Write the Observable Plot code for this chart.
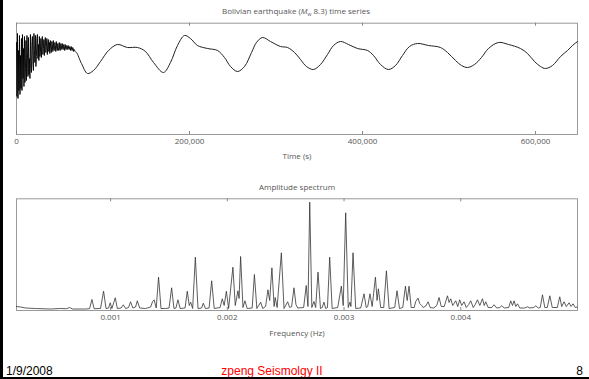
<!DOCTYPE html>
<html>
<head>
<meta charset="utf-8">
<script src="https://cdn.jsdelivr.net/npm/d3@7"></script>
<script src="https://cdn.jsdelivr.net/npm/@observablehq/plot@0.6"></script>
<style>
  html, body { margin: 0; padding: 0; background: #fff; }
  #page { position: relative; width: 589px; height: 379px; overflow: hidden; background: #fff; }
  .lbl { position: absolute; font-family: "Open Sans", sans-serif; font-size: 8px; color: #555; white-space: nowrap; transform: translate(-50%, -50%); line-height: 1; }
  .foot { position: absolute; font-family: "Liberation Sans", Arial, sans-serif; font-size: 12px; line-height: 1; white-space: nowrap; }
  #leftbar { position: absolute; left: 0; top: 0; width: 3px; height: 379px; background: #000; }
  #bottombar { position: absolute; left: 0; top: 377px; width: 589px; height: 2px; background: #000; }
  .plotbox { position: absolute; left: 0; }
</style>
</head>
<body>
<div id="page">
  <div id="leftbar"></div>
  <div class="lbl" style="left:296px; top:12px;">Bolivian earthquake (<i>M</i><sub style="font-size:5px">w</sub> 8.3) time series</div>
  <div class="plotbox" id="ts" style="top:0px;"></div>
  <div class="lbl" style="left:297px; top:156px;">Time (s)</div>
  <div class="lbl" style="left:297px; top:187px;">Amplitude spectrum</div>
  <div class="plotbox" id="sp" style="top:165px;"></div>
  <div class="lbl" style="left:297px; top:333px;">Frequency (Hz)</div>
  <div class="foot" style="left:6px; top:365px; color:#000;">1/9/2008</div>
  <div class="foot" style="left:272px; top:365px; color:#ff0000; transform:translateX(-50%);">zpeng Seismolgy II</div>
  <div class="foot" style="right:6px; top:365px; color:#000;">8</div>
  <div id="bottombar"></div>
</div>
<script>
// ---- Time series: noisy onset (time in s, amplitude in arbitrary units) ----
const noiseTime = [0,575,1150,1725,2300,2875,3450,4025,4600,5175,5750,6325,6900,7475,8050,8625,9200,9775,10350,10925,11500,12075,12650,13225,13800,14375,14950,15525,16100,16675,17250,17825,18400,18975,19550,20125,20700,21275,21850,22425,23000,23575,24150,24725,25300,25875,26450,27025,27600,28175,28750,29325,29900,30475,31050,31625,32200,32775,33350,33925,34500,35075,35650,36225,36800,37375,37950,38525,39100,39675,40250,40825,41400,41975,42550,43125,43700,44275,44850,45425,46000,46575,47150,47725,48300,48875,49450,50025,50600,51175,51750,52325,52900,53475,54050,54625,55200,55775,56350,56925,57500,58075,58650,59225,59800,60375,60950,61525,62100,62675,63250,63825,64400,64975,65550,66125,66700,67275];
const noiseAmp = [18,-36,27,-38,10,-30,25,-34,5,-28,22,-30,26,-18,12,-26,24,-22,-8,20,-20,25,8,-16,23,-14,2,-18,26,-8,-12,18,24,-4,-10,27,10,-2,25,-6,4,22,26,2,16,0,24,4,8,22,3,20,24,6,12,21,5,19,23,8,14,22,6,17,21,9,18,7,20,12,8,19,16,9,20,11,10,18,15,9,19,12,10,17,13,10,18,11,10,17,15,11,17,12,11,16,14,10,16,12,11,15,14,11,15,12,11,14,13,10,14,11,10,13,12,9,11,10];

// ---- Time series: long-period oscillation ----
const waveTime = [67850,69400,75100,82100,89000,97100,106400,116800,128300,139900,149100,158400,169900,178000,186100,194200,201100,209200,220800,232400,240400,247400,255500,263600,271700,277400,284400,293600,305200,313300,321400,328300,335200,343300,351400,359500,366500,374500,383800,394200,405800,412700,420800,430000,438100,446200,454300,463600,476300,490100,498200,507500,514400,521400,529400,537500,545600,557200,568800,582600,590700,598800,605700,611500,619600,628900,637000,642700,648500];
const waveAmp = [9,8,-3,-13,-10,-1,10,16,13,13,9,-2,-12,-2,15,25,22,15,12,10,3,-6,-11,-6,8,18,23,19,14,13,8,1,-6,-9,-4,6,15,19,16,12,10,5,-4,-9,-5,5,14,17,15,13,8,0,-5,-7,-4,3,12,18,16,12,7,-1,-6,-8,-5,4,10,15,19];
const timeTicks = [0, 200000, 400000, 600000];

// ---- Amplitude spectrum (frequency in microhertz, amplitude in arbitrary units) ----
const specFreqMicroHz = [194,229,271,357,486,571,623,649,674,786,820,840,859,914,940,961,983,997,1011,1040,1058,1090,1109,1129,1154,1171,1191,1214,1229,1249,1300,1343,1360,1373,1391,1411,1432,1471,1501,1523,1543,1560,1577,1596,1638,1657,1674,1686,1703,1726,1749,1780,1794,1812,1844,1866,1888,1938,1957,1973,1992,2011,2048,2068,2091,2101,2114,2134,2151,2170,2213,2232,2253,2286,2303,2328,2348,2363,2382,2401,2410,2427,2463,2486,2517,2534,2551,2571,2588,2603,2654,2676,2691,2706,2724,2742,2757,2777,2798,2813,2828,2843,2858,2877,2898,2946,2977,2993,3014,3036,3051,3059,3077,3100,3143,3171,3190,3203,3222,3241,3269,3283,3294,3314,3340,3363,3386,3434,3454,3475,3503,3526,3541,3557,3575,3601,3614,3634,3648,3665,3678,3700,3720,3738,3768,3794,3814,3833,3858,3886,3900,3914,3931,3957,3974,3991,4008,4028,4047,4068,4085,4107,4124,4143,4163,4186,4201,4214,4235,4266,4285,4308,4334,4351,4373,4411,4428,4443,4457,4471,4486,4505,4548,4571,4591,4625,4643,4664,4681,4700,4720,4741,4763,4784,4827,4848,4865,4885,4904,4928,4945,4962,4981,4998];
const specAmp = [4,3.5,2.5,2,1.5,2,1.8,3,1.5,1.5,1.8,11,1.8,2,19.3,2,2.5,7.7,2,12.7,2,2.5,5.7,2,3,8.7,2.5,3.5,9.7,2.5,2,3.5,9,10.7,2.5,33.3,2,2,2.5,22.7,2,2.5,10.7,2,2.5,19.3,5,8.3,2,53.3,2,2.5,7.3,2,2.5,29.7,2,3,11.7,5,19.3,2,43.3,5,19.7,12,54,3,9.7,2,2.5,36,2,8.3,2,4,20.7,10,42.7,4,13,3,57.7,2,8.7,3,4,22.7,6,2.5,3,25,4,108.3,3,9,3,38.3,2,3,8.3,2,3,53.3,2,3,24.3,5,97.7,3,8.3,4,57.7,2,2.5,16.7,3,4,16.7,4,33.3,10,21.7,3,3,39.7,2,3,19.7,2,3,24.3,10,24.3,3,3,9,12.3,7,5,3,4.5,8.7,3,2.5,5,13,4,4,14.7,8,11.7,5,9.7,4,10.7,5,8.7,3,6,9.7,3,6,10.7,5,11.7,5,8.7,3,3,5.7,2.5,3,4.7,2.5,3,9.7,5,9.7,4,6.7,2.5,2.5,3.7,2.5,3,4.7,2.5,3,15.7,3,3,14.7,3,3,13.7,4,8.7,4,7.7,4,6.7,3,3.5];
const freqTicks = [0.001, 0.002, 0.003, 0.004];

const noise = noiseTime.map((t, i) => ({t, a: noiseAmp[i]}));
const wave = waveTime.map((t, i) => ({t, a: waveAmp[i]}));
const spec = specFreqMicroHz.map((f, i) => ({f: f / 1e6, a: specAmp[i]}));

const baseStyle = {fontFamily: "'Open Sans', sans-serif", fontSize: "8px", color: "#555", background: "transparent", overflow: "visible"};

const ts = Plot.plot({
  width: 589, height: 165,
  marginLeft: 16, marginRight: 12, marginTop: 22.7, marginBottom: 31,
  style: baseStyle,
  x: {domain: [0, 648500]},
  y: {domain: [-74, 37.3], axis: null},
  marks: [
    Plot.frame({stroke: "#999", strokeWidth: 1}),
    Plot.ruleX(timeTicks, {stroke: "#888", insetBottom: 108.3}),
    Plot.ruleX(timeTicks, {stroke: "#888", insetTop: 108.3}),
    Plot.axisX(timeTicks, {anchor: "bottom", tickSize: 0, tickPadding: 4, label: null, fill: "#555", tickFormat: d3.format(",")}),
    Plot.line(noise, {x: "t", y: "a", stroke: "#000", strokeWidth: 0.9}),
    Plot.line(wave, {x: "t", y: "a", stroke: "#222", strokeWidth: 1, curve: "catmull-rom"})
  ]
});
document.getElementById("ts").appendChild(ts);

const sp = Plot.plot({
  width: 589, height: 175,
  marginLeft: 16, marginRight: 12, marginTop: 33.3, marginBottom: 30,
  style: baseStyle,
  x: {domain: [0.000194, 0.005]},
  y: {domain: [0, 111.7], axis: null},
  marks: [
    Plot.frame({stroke: "#999", strokeWidth: 1}),
    Plot.ruleX(freqTicks, {stroke: "#888", insetBottom: 108.7}),
    Plot.ruleX(freqTicks, {stroke: "#888", insetTop: 108.7}),
    Plot.axisX(freqTicks, {anchor: "bottom", tickSize: 0, tickPadding: 4, label: null, fill: "#555", tickFormat: d3.format(".3f")}),
    Plot.line(spec, {x: "f", y: "a", stroke: "#333", strokeWidth: 0.8})
  ]
});
document.getElementById("sp").appendChild(sp);
</script>
</body>
</html>
